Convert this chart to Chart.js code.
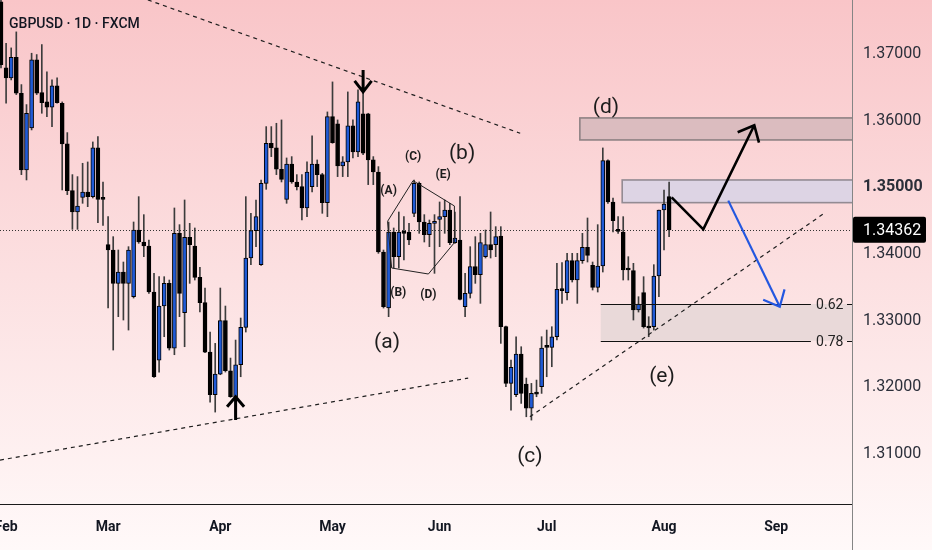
<!DOCTYPE html>
<html>
<head>
<meta charset="utf-8">
<script src="https://cdn.jsdelivr.net/npm/chart.js@4.4.1/dist/chart.umd.min.js"></script>
<style>
  html, body { margin: 0; padding: 0; background: #fff; }
</style>
</head>
<body>
<canvas id="chart" width="932" height="550"></canvas>
<script>
// GBPUSD daily candles, index = trading day (0 = 31 Jan)
const opens = [1.3778,1.3679,1.3664,1.3695,1.3641,1.3526,1.3589,1.3691,1.3642,1.3628,1.3620,1.3652,1.3626,1.3565,1.3495,1.3463,1.3485,1.3493,1.3486,1.3559,1.3483,1.3414,1.3406,1.3356,1.3373,1.3356,1.3336,1.3436,1.3418,1.3412,1.3343,1.3241,1.3322,1.3356,1.3259,1.3431,1.3312,1.3425,1.3412,1.3365,1.3327,1.3253,1.3189,1.3220,1.3300,1.3225,1.3186,1.3234,1.3290,1.3394,1.3435,1.3384,1.3506,1.3566,1.3559,1.3527,1.3482,1.3535,1.3508,1.3501,1.3469,1.3501,1.3535,1.3519,1.3477,1.3606,1.3595,1.3532,1.3538,1.3592,1.3553,1.3610,1.3610,1.3541,1.3523,1.3403,1.3319,1.3433,1.3396,1.3433,1.3433,1.3461,1.3506,1.3448,1.3429,1.3446,1.3452,1.3456,1.3466,1.3417,1.3421,1.3321,1.3341,1.3381,1.3369,1.3396,1.3414,1.3414,1.3427,1.3291,1.3206,1.3189,1.3250,1.3205,1.3169,1.3191,1.3201,1.3261,1.3260,1.3276,1.3347,1.3342,1.3390,1.3361,1.3390,1.3410,1.3383,1.3350,1.3382,1.3540,1.3478,1.3436,1.3433,1.3377,1.3375,1.3316,1.3342,1.3291,1.3291,1.3367,1.3466,1.3486];
const highs = [1.3800,1.3716,1.3709,1.3733,1.3654,1.3624,1.3701,1.3699,1.3714,1.3673,1.3661,1.3664,1.3628,1.3582,1.3519,1.3516,1.3536,1.3538,1.3568,1.3576,1.3508,1.3456,1.3426,1.3406,1.3388,1.3411,1.3448,1.3486,1.3459,1.3421,1.3371,1.3366,1.3366,1.3361,1.3469,1.3444,1.3481,1.3446,1.3439,1.3380,1.3349,1.3283,1.3266,1.3349,1.3322,1.3244,1.3271,1.3304,1.3486,1.3461,1.3481,1.3511,1.3591,1.3591,1.3596,1.3601,1.3544,1.3546,1.3519,1.3519,1.3538,1.3577,1.3541,1.3521,1.3613,1.3658,1.3601,1.3546,1.3643,1.3601,1.3646,1.3642,1.3611,1.3546,1.3531,1.3406,1.3448,1.3439,1.3463,1.3456,1.3446,1.3511,1.3508,1.3459,1.3451,1.3459,1.3478,1.3481,1.3476,1.3463,1.3486,1.3371,1.3411,1.3426,1.3431,1.3436,1.3463,1.3441,1.3441,1.3292,1.3241,1.3276,1.3261,1.3214,1.3206,1.3211,1.3276,1.3286,1.3291,1.3386,1.3387,1.3401,1.3401,1.3401,1.3431,1.3454,1.3388,1.3444,1.3559,1.3541,1.3484,1.3456,1.3456,1.3396,1.3386,1.3336,1.3366,1.3306,1.3384,1.3466,1.3496,1.3508];
const lows = [1.3679,1.3626,1.3661,1.3639,1.3519,1.3511,1.3586,1.3639,1.3611,1.3606,1.3591,1.3626,1.3496,1.3489,1.3437,1.3437,1.3476,1.3471,1.3484,1.3447,1.3443,1.3319,1.3256,1.3306,1.3301,1.3286,1.3334,1.3416,1.3396,1.3341,1.3215,1.3223,1.3276,1.3256,1.3249,1.3306,1.3261,1.3356,1.3361,1.3313,1.3252,1.3178,1.3163,1.3219,1.3223,1.3185,1.3156,1.3216,1.3283,1.3384,1.3411,1.3383,1.3497,1.3546,1.3519,1.3508,1.3476,1.3506,1.3496,1.3451,1.3456,1.3493,1.3501,1.3461,1.3456,1.3566,1.3516,1.3516,1.3516,1.3544,1.3546,1.3549,1.3504,1.3504,1.3401,1.3319,1.3306,1.3379,1.3379,1.3391,1.3414,1.3456,1.3431,1.3418,1.3411,1.3371,1.3411,1.3431,1.3414,1.3416,1.3331,1.3306,1.3334,1.3356,1.3326,1.3394,1.3394,1.3396,1.3266,1.3201,1.3166,1.3186,1.3176,1.3156,1.3151,1.3186,1.3191,1.3216,1.3231,1.3271,1.3326,1.3331,1.3358,1.3326,1.3386,1.3388,1.3346,1.3343,1.3373,1.3476,1.3433,1.3431,1.3361,1.3361,1.3301,1.3313,1.3289,1.3276,1.3286,1.3336,1.3406,1.3426];
const closes = [1.3684,1.3664,1.3695,1.3641,1.3526,1.3611,1.3691,1.3641,1.3627,1.3620,1.3652,1.3627,1.3565,1.3495,1.3463,1.3472,1.3493,1.3486,1.3559,1.3482,1.3482,1.3406,1.3356,1.3373,1.3356,1.3406,1.3436,1.3418,1.3412,1.3343,1.3216,1.3322,1.3356,1.3259,1.3431,1.3341,1.3425,1.3414,1.3365,1.3327,1.3253,1.3189,1.3220,1.3300,1.3225,1.3186,1.3234,1.3290,1.3394,1.3435,1.3456,1.3506,1.3566,1.3559,1.3527,1.3512,1.3535,1.3508,1.3501,1.3469,1.3523,1.3535,1.3519,1.3477,1.3606,1.3567,1.3532,1.3538,1.3592,1.3553,1.3628,1.3551,1.3541,1.3523,1.3403,1.3321,1.3433,1.3396,1.3433,1.3431,1.3421,1.3506,1.3448,1.3429,1.3446,1.3448,1.3456,1.3466,1.3417,1.3424,1.3332,1.3341,1.3381,1.3369,1.3417,1.3414,1.3406,1.3426,1.3291,1.3206,1.3230,1.3250,1.3191,1.3169,1.3191,1.3190,1.3259,1.3260,1.3276,1.3347,1.3345,1.3390,1.3361,1.3390,1.3410,1.3398,1.3350,1.3382,1.3540,1.3478,1.3450,1.3434,1.3376,1.3376,1.3316,1.3325,1.3291,1.3289,1.3367,1.3466,1.3475,1.34362];

const lastPrice = 1.34362;
const priceTicks = [1.31, 1.32, 1.33, 1.34, 1.35, 1.36, 1.37];
const monthTicks = [1, 21, 43, 65, 86, 107, 130, 152];
const monthNames = ["Feb", "Mar", "Apr", "May", "Jun", "Jul", "Aug", "Sep"];

// drawings, in [day index, price]
const trendLines = [
  [[28.8, 1.3781], [101.8, 1.3581]],
  [[-0.2, 1.3091], [91.6, 1.3214]],
  [[103.7, 1.3156], [161.6, 1.3462]]
];
const triangleIdx = [75.8, 80.8, 88.9, 88.9, 83.8, 76.6];
const trianglePrice = [1.3449, 1.3510, 1.3472, 1.3417, 1.3370, 1.3379];
const waveNames = ["(a)", "(b)", "(c)", "(d)", "(e)"];
const waveIdx = [75.7, 90.4, 103.7, 118.6, 129.6];
const wavePrice = [1.3267, 1.3551, 1.3096, 1.3620, 1.3216];
const subNames = ["(A)", "(B)", "(C)", "(D)", "(E)"];
const subIdx = [76.0, 77.9, 80.8, 83.8, 86.7];
const subPrice = [1.3495, 1.3342, 1.3545, 1.3339, 1.3518];
const bullPathIdx = [131.5, 137.7, 147.7];
const bullPathPrice = [1.3485, 1.3437, 1.3593];
const bearPathIdx = [142.6, 152.7];
const bearPathPrice = [1.3480, 1.3321];
const zones = [
  { from: 113.5, top: 1.3604, bottom: 1.3571, fill: "#dbbcbf", line: "#8e8284" },
  { from: 121.8, top: 1.3511, bottom: 1.3477, fill: "#ddd4e4", line: "#938b93" },
  { from: 117.6, top: 1.3325, bottom: 1.3270, fill: "#e9d9d9", line: null }
];
const fibLevels = [1.3325, 1.3270];
const fibNames = ["0.62", "0.78"];
const fibFrom = 117.6, fibTo = 158.8, fibLabelAt = 162.5;
const topArrowIdx = 71, topArrowTip = 1.3643, topArrowTail = 1.3676;
const lowArrowIdx = 46, lowArrowTip = 1.3186, lowArrowTail = 1.3151;

const xMin = -0.196, xMax = 166.86;
const yMin = 1.302519, yMax = 1.378081;

const BLUE = "#1f5ad6";
const bodyColors = opens.map((o, i) => (closes[i] > o ? BLUE : "#000000"));
const bodies = opens.map((o, i) => ({ x: i, y: [o, closes[i]] }));
const wicks = lows.map((l, i) => ({ x: i, y: [l, highs[i]] }));

function arrowHead(ctx, x0, y0, x1, y1, len, ang) {
  const a = Math.atan2(y1 - y0, x1 - x0);
  ctx.beginPath();
  ctx.moveTo(x1 - len * Math.cos(a - ang), y1 - len * Math.sin(a - ang));
  ctx.lineTo(x1, y1);
  ctx.lineTo(x1 - len * Math.cos(a + ang), y1 - len * Math.sin(a + ang));
  ctx.stroke();
}

const drawings = {
  id: "drawings",
  beforeDraw(chart) {
    const ctx = chart.ctx;
    const g = ctx.createLinearGradient(0, 0, 0, chart.height);
    g.addColorStop(0, "#f9c5c8");
    g.addColorStop(0.5, "#fce0e1");
    g.addColorStop(1, "#fff9f9");
    ctx.save();
    ctx.fillStyle = g;
    ctx.fillRect(0, 0, chart.width, chart.height);
    ctx.restore();
  },
  beforeDatasetsDraw(chart) {
    const { ctx, chartArea: ca, scales: { x, y } } = chart;
    ctx.save();
    ctx.beginPath();
    ctx.rect(ca.left, ca.top, ca.right - ca.left, ca.bottom - ca.top);
    ctx.clip();
    zones.forEach((z) => {
      const x0 = x.getPixelForValue(z.from);
      const y0 = y.getPixelForValue(z.top);
      const y1 = y.getPixelForValue(z.bottom);
      ctx.fillStyle = z.fill;
      ctx.fillRect(x0, y0, ca.right - x0, y1 - y0);
      if (z.line) {
        ctx.strokeStyle = z.line;
        ctx.lineWidth = 1.6;
        ctx.strokeRect(x0, y0, ca.right - x0 + 4, y1 - y0);
      }
    });
    // last price dotted line
    const yp = Math.round(y.getPixelForValue(lastPrice)) + 0.5;
    ctx.strokeStyle = "#333";
    ctx.lineWidth = 1;
    ctx.setLineDash([1, 2]);
    ctx.beginPath();
    ctx.moveTo(ca.left, yp);
    ctx.lineTo(ca.right, yp);
    ctx.stroke();
    ctx.restore();
  },
  afterDatasetsDraw(chart) {
    const { ctx, chartArea: ca, scales: { x, y } } = chart;
    ctx.save();
    ctx.beginPath();
    ctx.rect(ca.left, ca.top, ca.right - ca.left, ca.bottom - ca.top);
    ctx.clip();

    // trend lines
    ctx.strokeStyle = "#1e1e1e";
    ctx.lineWidth = 1.2;
    ctx.setLineDash([4, 4]);
    trendLines.forEach((l) => {
      ctx.beginPath();
      ctx.moveTo(x.getPixelForValue(l[0][0]), y.getPixelForValue(l[0][1]));
      ctx.lineTo(x.getPixelForValue(l[1][0]), y.getPixelForValue(l[1][1]));
      ctx.stroke();
    });
    ctx.setLineDash([]);

    // triangle outline
    ctx.lineWidth = 1;
    ctx.strokeStyle = "#222";
    ctx.beginPath();
    triangleIdx.forEach((t, i) => {
      const px = x.getPixelForValue(t), py = y.getPixelForValue(trianglePrice[i]);
      if (i === 0) ctx.moveTo(px, py); else ctx.lineTo(px, py);
    });
    ctx.closePath();
    ctx.stroke();

    // fib levels
    ctx.strokeStyle = "#111";
    ctx.lineWidth = 1;
    ctx.font = "14px Roboto";
    ctx.fillStyle = "#222";
    ctx.textAlign = "center";
    ctx.textBaseline = "middle";
    fibLevels.forEach((lv, i) => {
      const py = Math.round(y.getPixelForValue(lv)) + 0.5;
      ctx.beginPath();
      ctx.moveTo(x.getPixelForValue(fibFrom), py);
      ctx.lineTo(x.getPixelForValue(fibTo), py);
      ctx.moveTo(ca.right - 5, py);
      ctx.lineTo(ca.right, py);
      ctx.stroke();
      ctx.fillText(fibNames[i], x.getPixelForValue(fibLabelAt), py + 1);
    });

    // pivot arrows
    ctx.strokeStyle = "#000";
    ctx.lineWidth = 3;
    let ax = x.getPixelForValue(topArrowIdx);
    let tip = y.getPixelForValue(topArrowTip), tail = y.getPixelForValue(topArrowTail);
    ctx.beginPath();
    ctx.moveTo(ax, tail); ctx.lineTo(ax, tip);
    ctx.moveTo(ax - 8.5, tip - 11); ctx.lineTo(ax, tip); ctx.lineTo(ax + 8.5, tip - 11);
    ctx.stroke();
    ax = x.getPixelForValue(lowArrowIdx);
    tip = y.getPixelForValue(lowArrowTip); tail = y.getPixelForValue(lowArrowTail);
    ctx.beginPath();
    ctx.moveTo(ax, tail); ctx.lineTo(ax, tip);
    ctx.moveTo(ax - 8.5, tip + 10); ctx.lineTo(ax, tip); ctx.lineTo(ax + 8.5, tip + 10);
    ctx.stroke();

    // projected paths
    const drawPath = (idx, pr, color, w) => {
      const pts = idx.map((t, i) => [x.getPixelForValue(t), y.getPixelForValue(pr[i])]);
      ctx.strokeStyle = color;
      ctx.lineWidth = w;
      ctx.lineJoin = "miter";
      ctx.beginPath();
      pts.forEach((p, i) => (i === 0 ? ctx.moveTo(p[0], p[1]) : ctx.lineTo(p[0], p[1])));
      ctx.stroke();
      const a = pts[pts.length - 2], b = pts[pts.length - 1];
      arrowHead(ctx, a[0], a[1], b[0], b[1], 18, 0.72);
    };
    drawPath(bullPathIdx, bullPathPrice, "#000", 2.6);
    drawPath(bearPathIdx, bearPathPrice, "#2357e0", 2.2);

    // wave labels
    ctx.fillStyle = "#1c1c1c";
    ctx.textAlign = "center";
    ctx.textBaseline = "middle";
    ctx.font = "21px Roboto";
    waveNames.forEach((n, i) => ctx.fillText(n, x.getPixelForValue(waveIdx[i]), y.getPixelForValue(wavePrice[i])));
    ctx.font = "bold 12px Roboto";
    subNames.forEach((n, i) => ctx.fillText(n, x.getPixelForValue(subIdx[i]), y.getPixelForValue(subPrice[i])));
    ctx.restore();
  },
  afterDraw(chart) {
    const { ctx, chartArea: ca, scales: { y } } = chart;
    ctx.save();
    // title
    ctx.fillStyle = "#131722";
    ctx.font = "500 14px Roboto";
    ctx.textAlign = "left";
    ctx.textBaseline = "alphabetic";
    ctx.fillText("GBPUSD · 1D · FXCM", 9, 28);
    // axis lines
    ctx.strokeStyle = "#1a1a1a";
    ctx.lineWidth = 1;
    ctx.beginPath();
    ctx.moveTo(0, ca.bottom + 0.5);
    ctx.lineTo(ca.right, ca.bottom + 0.5);
    ctx.stroke();
    ctx.strokeStyle = "#858585";
    ctx.beginPath();
    ctx.moveTo(ca.right + 0.5, 0);
    ctx.lineTo(ca.right + 0.5, chart.height);
    ctx.stroke();
    // last price tag
    const yp = y.getPixelForValue(lastPrice);
    ctx.fillStyle = "#000";
    ctx.beginPath();
    ctx.roundRect(ca.right + 1, yp - 13, 73, 26, 2);
    ctx.fill();
    ctx.fillStyle = "#fff";
    ctx.font = "16px Roboto";
    ctx.textBaseline = "middle";
    ctx.fillText(lastPrice.toFixed(5), ca.right + 11, yp + 1);
    ctx.restore();
  }
};

new Chart(document.getElementById("chart"), {
  type: "bar",
  data: {
    datasets: [
      {
        data: bodies,
        backgroundColor: bodyColors,
        borderColor: "#000",
        borderWidth: 1,
        borderSkipped: false,
        barThickness: 4,
        minBarLength: 2,
        grouped: false,
        order: 0
      },
      {
        data: wicks,
        backgroundColor: "#3c3c3c",
        borderWidth: 0,
        barThickness: 1,
        grouped: false,
        order: 1
      }
    ]
  },
  options: {
    responsive: false,
    animation: false,
    devicePixelRatio: 1,
    layout: { padding: 0 },
    plugins: { legend: { display: false }, tooltip: { enabled: false } },
    scales: {
      x: {
        type: "linear",
        min: xMin,
        max: xMax,
        offset: false,
        grid: { display: false, drawTicks: false },
        border: { display: false },
        afterBuildTicks: (s) => { s.ticks = monthTicks.map((v) => ({ value: v })); },
        afterFit: (s) => { s.height = 46; s.paddingLeft = 0; s.paddingRight = 0; },
        ticks: {
          autoSkip: false,
          maxRotation: 0,
          padding: 15,
          color: "#131722",
          font: { family: "Roboto", size: 14, weight: "bold" },
          callback: (v, i) => monthNames[i]
        }
      },
      y: {
        type: "linear",
        position: "right",
        min: yMin,
        max: yMax,
        grid: { display: false, drawTicks: false },
        border: { display: false },
        afterBuildTicks: (s) => { s.ticks = priceTicks.map((v) => ({ value: v })); },
        afterFit: (s) => { s.width = 80; s.paddingTop = 0; s.paddingBottom = 0; },
        ticks: {
          padding: 11,
          color: "#2a2e39",
          font: (c) => ({ family: "Roboto", size: 16, weight: c.tick && c.tick.value === 1.35 ? "bold" : "normal" }),
          callback: (v) => v.toFixed(5)
        }
      }
    }
  },
  plugins: [drawings]
});
</script>
</body>
</html>
